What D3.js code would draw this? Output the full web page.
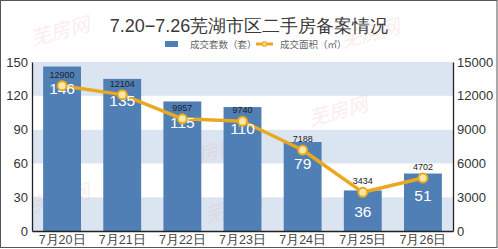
<!DOCTYPE html>
<html>
<head>
<meta charset="utf-8">
<script src="https://cdn.jsdelivr.net/npm/d3@7"></script>
<style>
  body { margin: 0; background: #fff; }
  svg { display: block; font-family: Arial, "Liberation Sans", sans-serif; }
</style>
</head>
<body>
<div id="chart"></div>
<script>
var days = ['7月20日', '7月21日', '7月22日', '7月23日', '7月24日', '7月25日', '7月26日'];
var units = [146, 135, 115, 110, 79, 36, 51];
var area = [12900, 12104, 9957, 9740, 7188, 3434, 4702];
var leftTicks = [0, 30, 60, 90, 120, 150];
var rightTicks = [0, 3000, 6000, 9000, 12000, 15000];

var width = 498, height = 249;
var m = { left: 32, right: 45, top: 62, bottom: 18 };
var x0 = m.left, x1 = width - m.right, y0 = height - m.bottom, y1 = m.top;

var svg = d3.select('#chart').append('svg')
  .attr('width', width).attr('height', height);

svg.append('rect').attr('x', 0.5).attr('y', 0.5)
  .attr('width', width - 1.5).attr('height', height - 2)
  .attr('fill', '#fff').attr('stroke', '#555');

var x = d3.scaleBand().domain(days).range([x0, x1]).paddingInner(0.37).paddingOuter(0.185);
var yL = d3.scaleLinear().domain([0, 150]).range([y0, y1]);
var yR = d3.scaleLinear().domain([0, 15000]).range([y0, y1]);

// striped background
var stripes = d3.range(0, 150, 30);
svg.append('g').selectAll('rect')
  .data(stripes)
  .enter().append('rect')
  .attr('x', x0)
  .attr('width', x1 - x0)
  .attr('y', function(d) { return yL(d + 30); })
  .attr('height', function(d) { return yL(d) - yL(d + 30); })
  .attr('fill', function(d, i) { return i % 2 === 0 ? '#dbe5f1' : '#fff'; });

// faint watermarks
var marks = [[62, 38], [372, 40], [210, 160], [340, 118], [62, 205], [235, 215]];
svg.append('g').selectAll('text')
  .data(marks)
  .enter().append('text')
  .attr('transform', function(d) { return 'translate(' + d[0] + ',' + d[1] + ') rotate(-15)'; })
  .attr('text-anchor', 'middle')
  .attr('font-family', '"Noto Sans CJK SC", sans-serif')
  .attr('font-size', 20)
  .attr('font-style', 'italic')
  .attr('fill', '#e8a0a0')
  .attr('opacity', 0.18)
  .text('芜房网');

// title
svg.append('text')
  .attr('x', 249).attr('y', 32)
  .attr('text-anchor', 'middle')
  .attr('font-size', 18)
  .attr('fill', '#3a3a3a')
  .text('7.20−7.26芜湖市区二手房备案情况');

// legend
var lg = svg.append('g').attr('font-family', '"Noto Sans CJK SC", serif').attr('font-size', 9.5).attr('fill', '#666');
lg.append('rect').attr('x', 165).attr('y', 41).attr('width', 13).attr('height', 6).attr('fill', '#4f7fb5');
lg.append('text').attr('x', 190).attr('y', 48).text('成交套数（套）');
lg.append('line').attr('x1', 256).attr('x2', 273).attr('y1', 44).attr('y2', 44)
  .attr('stroke', '#e8a920').attr('stroke-width', 3);
lg.append('circle').attr('cx', 264.5).attr('cy', 44).attr('r', 2.5).attr('fill', '#f5d468').attr('stroke', '#e8a920');
lg.append('text').attr('x', 280).attr('y', 48).text('成交面积（㎡）');

// bars
svg.append('g').selectAll('rect')
  .data(units)
  .enter().append('rect')
  .attr('x', function(d, i) { return x(days[i]); })
  .attr('width', x.bandwidth())
  .attr('y', function(d) { return yL(d); })
  .attr('height', function(d) { return y0 - yL(d); })
  .attr('fill', '#4f7fb5');

// area line
var line = d3.line()
  .x(function(d, i) { return x(days[i]) + x.bandwidth() / 2; })
  .y(function(d) { return yR(d); });

svg.append('path')
  .datum(area)
  .attr('d', line)
  .attr('fill', 'none')
  .attr('stroke', '#e8a920')
  .attr('stroke-width', 3.5)
  .attr('stroke-linejoin', 'round');

// bar labels
svg.append('g').selectAll('text')
  .data(units)
  .enter().append('text')
  .attr('x', function(d, i) { return x(days[i]) + x.bandwidth() / 2; })
  .attr('y', function(d) { return yL(d) + 27; })
  .attr('text-anchor', 'middle')
  .attr('font-size', 15.5)
  .attr('fill', '#fff')
  .text(function(d) { return d; });

svg.append('g').selectAll('circle')
  .data(area)
  .enter().append('circle')
  .attr('cx', function(d, i) { return x(days[i]) + x.bandwidth() / 2; })
  .attr('cy', function(d) { return yR(d); })
  .attr('r', 4.5)
  .attr('fill', '#fbe9a8')
  .attr('stroke', '#e8a920')
  .attr('stroke-width', 2);

svg.append('g').selectAll('text')
  .data(area)
  .enter().append('text')
  .attr('x', function(d, i) { return x(days[i]) + x.bandwidth() / 2; })
  .attr('y', function(d) { return yR(d) - 8; })
  .attr('text-anchor', 'middle')
  .attr('font-size', 9)
  .attr('fill', '#222')
  .text(function(d) { return d; });

// axes
var axL = svg.append('g').attr('transform', 'translate(' + x0 + ',0)')
  .call(d3.axisLeft(yL).tickValues(leftTicks).tickSize(0).tickPadding(4));
var axR = svg.append('g').attr('transform', 'translate(' + x1 + ',0)')
  .call(d3.axisRight(yR).tickValues(rightTicks).tickFormat(d3.format('d')).tickSize(0).tickPadding(4));
var axB = svg.append('g').attr('transform', 'translate(0,' + y0 + ')')
  .call(d3.axisBottom(x).tickSize(0).tickPadding(4));

[axL, axR, axB].forEach(function(a) {
  a.select('.domain').attr('stroke', '#222').attr('stroke-width', 1.3);
  a.selectAll('text').attr('font-family', 'Arial, "Liberation Sans", sans-serif')
    .attr('font-size', 13).attr('fill', '#333');
});
axB.selectAll('text').attr('font-size', 12.5).attr('fill', '#444');
</script>
</body>
</html>
